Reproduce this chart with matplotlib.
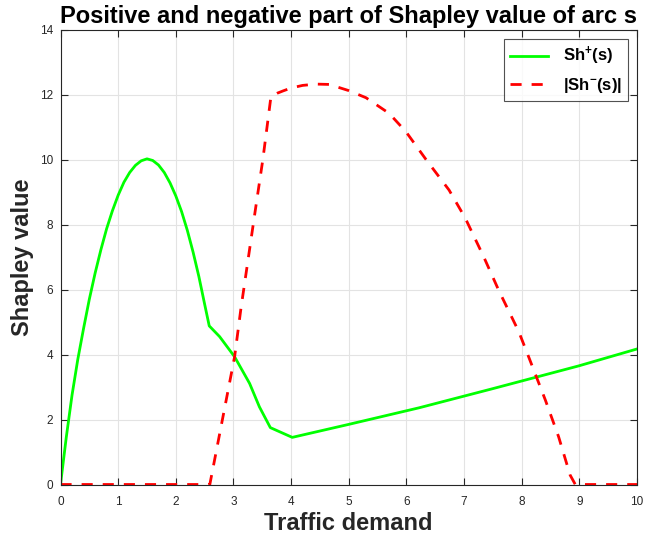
import matplotlib
matplotlib.use("Agg")
import matplotlib.pyplot as plt

plt.rcParams['font.family'] = ['Liberation Sans', 'DejaVu Sans']
plt.rcParams['mathtext.fontset'] = 'custom'
plt.rcParams['mathtext.rm'] = 'Liberation Sans:bold'
plt.rcParams['mathtext.bf'] = 'Liberation Sans:bold'
plt.rcParams['mathtext.it'] = 'Liberation Sans:bold'

# Sh+(s)
pos_x = [0.0, 0.1, 0.2, 0.3, 0.4, 0.5, 0.6, 0.7, 0.8, 0.9, 1.0, 1.1, 1.2, 1.3, 1.4,
         1.5, 1.6, 1.7, 1.8, 1.9, 2.0, 2.1, 2.2, 2.3, 2.4, 2.5, 2.58,
         2.76, 3.02, 3.28, 3.45, 3.64, 4.02, 5.0, 6.22, 7.5, 8.99, 10.0]
pos_y = [0.0, 1.45, 2.75, 3.85, 4.8, 5.7, 6.5, 7.22, 7.87, 8.42, 8.9, 9.3, 9.6, 9.82, 9.96,
         10.02, 9.97, 9.83, 9.6, 9.28, 8.88, 8.4, 7.82, 7.15, 6.4, 5.55, 4.88,
         4.55, 3.93, 3.11, 2.39, 1.75, 1.45, 1.85, 2.36, 2.95, 3.65, 4.17]

# |Sh-(s)|
neg_x = [0.0, 2.59, 3.02, 3.13, 3.38, 3.51, 3.65, 3.76, 3.86, 4.0, 4.2, 4.43, 4.66, 5.0, 5.3,
         5.7, 5.99, 6.34, 6.74, 7.02, 7.34, 7.6, 7.95, 8.12, 8.41, 8.64, 8.84, 8.93, 10.0]
neg_y = [0.0, 0.0, 3.93, 5.42, 8.45, 10.0, 11.93, 12.04, 12.11, 12.2, 12.28, 12.32, 12.31, 12.12, 11.9,
         11.42, 10.86, 10.0, 9.06, 8.2, 7.01, 5.98, 4.70, 3.93, 2.6, 1.47, 0.29, 0.0, 0.0]

xticks = list(range(0, 11))
yticks = list(range(0, 15, 2))

W, H = 646, 543
fig = plt.figure(figsize=(W / 100, H / 100), dpi=100)
ax = fig.add_axes([60.5 / W, 1 - 484.5 / H, (637 - 60.5) / W, (484.5 - 29.5) / H])

ax.plot(pos_x, pos_y, color='#00ff00', lw=2.0, label=r'Sh$^{+}$(s)')
ax.plot(neg_x, neg_y, color='#ff0000', lw=2.0, ls=(0, (4, 3.6)), label=r'|Sh$^{-}$(s)|')

ax.set_xlim(0, 10)
ax.set_ylim(0, 14)
ax.set_xticks(xticks)
ax.set_yticks(yticks)
ax.grid(True, color='#e3e3e3', lw=0.8)
ax.set_axisbelow(True)
ax.tick_params(direction='in', top=True, right=True, length=5, width=0.8,
               labelsize=8.5, colors='#262626')
ax.tick_params(axis='x', pad=8)
ax.tick_params(axis='y', pad=5.5)
for s in ax.spines.values():
    s.set_color('#262626')
    s.set_linewidth(0.8)

ax.set_xlabel('Traffic demand', fontsize=17, fontweight='bold', color='#262626', labelpad=3)
ax.set_ylabel('Shapley value', fontsize=17, fontweight='bold', color='#262626', labelpad=4)
ax.set_title('Positive and negative part of Shapley value of arc s', fontsize=17,
             fontweight='bold', color='black', pad=5)

leg = ax.legend(loc='upper right', bbox_to_anchor=(628.3 / W, 1 - 39.3 / H),
                bbox_transform=fig.transFigure, borderaxespad=0,
                prop={'weight': 'bold', 'size': 12}, frameon=True, fancybox=False,
                edgecolor='#262626', handlelength=2.3, handletextpad=0.9,
                borderpad=0.35, labelspacing=0.5)
leg.get_frame().set_linewidth(0.8)

fig.savefig('out.png', dpi=100)
